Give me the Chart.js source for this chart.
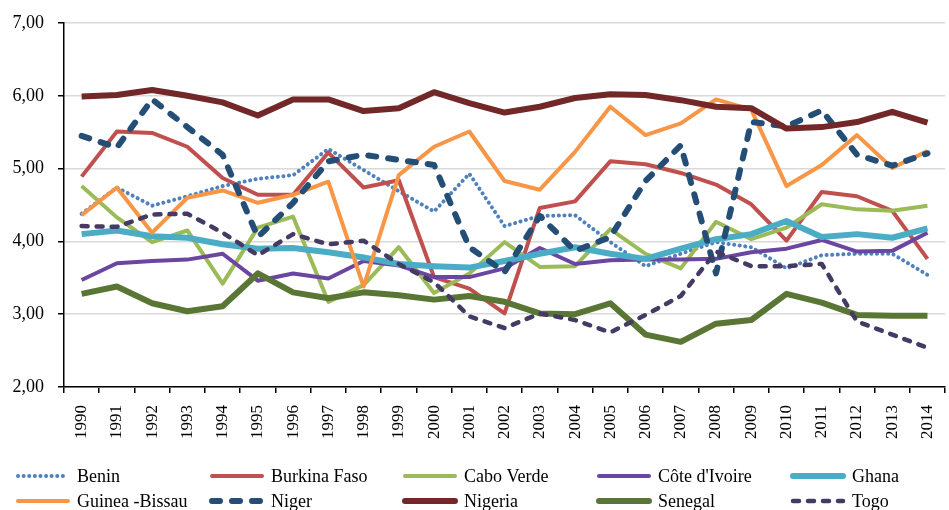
<!DOCTYPE html>
<html>
<head>
<meta charset="utf-8">
<script src="https://cdn.jsdelivr.net/npm/chart.js@4"></script>
<style>
  html, body { margin: 0; padding: 0; background: #fff; overflow: hidden; }
  #wrap { width: 960px; height: 510px; }
</style>
</head>
<body>
<div id="wrap"><canvas id="chart" width="960" height="510"></canvas></div>
<script>
// Years on the x axis
const years = ['1990','1991','1992','1993','1994','1995','1996','1997','1998','1999','2000','2001','2002',
  '2003','2004','2005','2006','2007','2008','2009','2010','2011','2012','2013','2014'];

// Series values
const benin       = [4.38, 4.74, 4.49, 4.62, 4.76, 4.86, 4.91, 5.27, 4.98, 4.69, 4.41, 4.93, 4.21, 4.35, 4.36, 3.99, 3.66, 3.83, 3.99, 3.92, 3.63, 3.81, 3.83, 3.83, 3.54];
const burkina     = [4.89, 5.51, 5.49, 5.30, 4.87, 4.64, 4.64, 5.22, 4.74, 4.84, 3.51, 3.35, 3.01, 4.46, 4.55, 5.10, 5.06, 4.94, 4.78, 4.51, 4.01, 4.68, 4.62, 4.42, 3.76];
const caboVerde   = [4.76, 4.33, 3.99, 4.15, 3.42, 4.19, 4.34, 3.17, 3.40, 3.92, 3.29, 3.56, 3.99, 3.65, 3.66, 4.17, 3.83, 3.63, 4.27, 4.03, 4.19, 4.51, 4.44, 4.42, 4.49];
const coteIvoire  = [3.47, 3.70, 3.73, 3.75, 3.83, 3.46, 3.56, 3.49, 3.73, 3.67, 3.51, 3.51, 3.63, 3.91, 3.69, 3.74, 3.75, 3.75, 3.76, 3.85, 3.90, 4.02, 3.86, 3.87, 4.12];
const ghana       = [4.10, 4.15, 4.07, 4.05, 3.96, 3.90, 3.91, 3.85, 3.78, 3.69, 3.66, 3.64, 3.73, 3.83, 3.92, 3.83, 3.76, 3.90, 4.03, 4.10, 4.28, 4.06, 4.10, 4.05, 4.18];
const guineaB     = [4.36, 4.74, 4.12, 4.60, 4.70, 4.53, 4.64, 4.82, 3.38, 4.91, 5.30, 5.51, 4.83, 4.71, 5.23, 5.85, 5.46, 5.62, 5.95, 5.81, 4.76, 5.05, 5.46, 5.01, 5.24];
const niger       = [5.45, 5.29, 5.95, 5.57, 5.19, 4.06, 4.53, 5.10, 5.19, 5.12, 5.05, 3.92, 3.58, 4.35, 3.87, 4.06, 4.83, 5.32, 3.56, 5.64, 5.58, 5.80, 5.19, 5.04, 5.21];
const nigeria     = [5.99, 6.01, 6.08, 6.00, 5.91, 5.73, 5.95, 5.95, 5.79, 5.83, 6.05, 5.90, 5.77, 5.85, 5.97, 6.02, 6.01, 5.94, 5.85, 5.83, 5.55, 5.57, 5.64, 5.78, 5.63];
const senegal     = [3.28, 3.38, 3.15, 3.04, 3.11, 3.56, 3.30, 3.22, 3.30, 3.26, 3.20, 3.25, 3.17, 3.01, 3.00, 3.15, 2.72, 2.62, 2.87, 2.92, 3.28, 3.16, 2.99, 2.98, 2.98];
const togo        = [4.21, 4.20, 4.37, 4.38, 4.12, 3.81, 4.10, 3.96, 4.01, 3.69, 3.44, 2.97, 2.81, 3.01, 2.92, 2.75, 2.99, 3.25, 3.86, 3.66, 3.66, 3.69, 2.90, 2.72, 2.54];

// y-axis ticks
const yMin = 2, yMax = 7, yStep = 1;

const FONT = 'Liberation Serif';

function line(label, data, color, width, dash) {
  return {
    label: label,
    data: data,
    borderColor: color,
    backgroundColor: color,
    borderWidth: width,
    borderDash: dash || [],
    borderCapStyle: dash ? 'round' : 'butt',
    borderJoinStyle: 'round',
    pointRadius: 0,
    tension: 0,
    fill: false
  };
}

const datasets = [
  line('Benin', benin, '#4f81bd', 4, [0.1, 5.5]),
  line('Burkina Faso', burkina, '#c0504d', 4),
  line('Cabo Verde', caboVerde, '#9bbb59', 4),
  line("Côte d'Ivoire", coteIvoire, '#6b46a1', 4),
  line('Ghana', ghana, '#4bacc6', 6),
  line('Guinea -Bissau', guineaB, '#f79646', 4),
  line('Niger', niger, '#254e76', 6, [8, 12]),
  line('Nigeria', nigeria, '#722828', 6),
  line('Senegal', senegal, '#5a7634', 6),
  line('Togo', togo, '#453a64', 4.5, [6, 9])
];
// later series drawn on top, as in the original
datasets.forEach((d, i) => { d.order = datasets.length - i; });

// legend drawn in a fixed 5-column grid under the axis
const gridLegend = {
  id: 'gridLegend',
  afterDraw(chart) {
    const ctx = chart.ctx;
    const cols = [15, 209, 402, 596, 790];
    const rows = [476, 501];
    ctx.save();
    ctx.font = '18px "' + FONT + '"';
    ctx.textBaseline = 'middle';
    ctx.fillStyle = '#000';
    chart.data.datasets.forEach((ds, i) => {
      const x = cols[i % 5], y = rows[Math.floor(i / 5)];
      ctx.beginPath();
      ctx.strokeStyle = ds.borderColor;
      ctx.lineWidth = ds.borderWidth;
      ctx.setLineDash(ds.borderDash);
      ctx.lineCap = 'round';
      ctx.moveTo(x + 3, y);
      ctx.lineTo(x + 53, y);
      ctx.stroke();
      ctx.setLineDash([]);
      ctx.fillText(ds.label, x + 62, y + 1);
    });
    ctx.restore();
  }
};

new Chart(document.getElementById('chart'), {
  type: 'line',
  data: { labels: years, datasets: datasets },
  plugins: [gridLegend],
  options: {
    responsive: false,
    animation: false,
    layout: { padding: { top: 8, right: 6, bottom: 50, left: 0 } },
    plugins: {
      legend: { display: false },
      tooltip: { enabled: false }
    },
    scales: {
      x: {
        offset: true,
        afterFit: (s) => { s.height = 73; },
        border: { color: '#000', width: 1.5 },
        grid: { offset: true, drawOnChartArea: false, tickLength: 6, tickColor: '#000', lineWidth: 1.5 },
        ticks: {
          color: '#000', minRotation: 90, maxRotation: 90, autoSkip: false, padding: 12,
          font: { family: FONT, size: 17 }
        }
      },
      y: {
        min: yMin, max: yMax,
        afterFit: (s) => { s.width = 64; },
        border: { color: '#000', width: 1.5 },
        grid: { color: '#d9d9d9', lineWidth: 1.5, tickLength: 6, tickColor: '#000' },
        ticks: {
          stepSize: yStep, color: '#000', padding: 14,
          font: { family: FONT, size: 18, lineHeight: 1 },
          callback: (v) => v.toFixed(2).replace('.', ',')
        }
      }
    }
  }
});
</script>
</body>
</html>
